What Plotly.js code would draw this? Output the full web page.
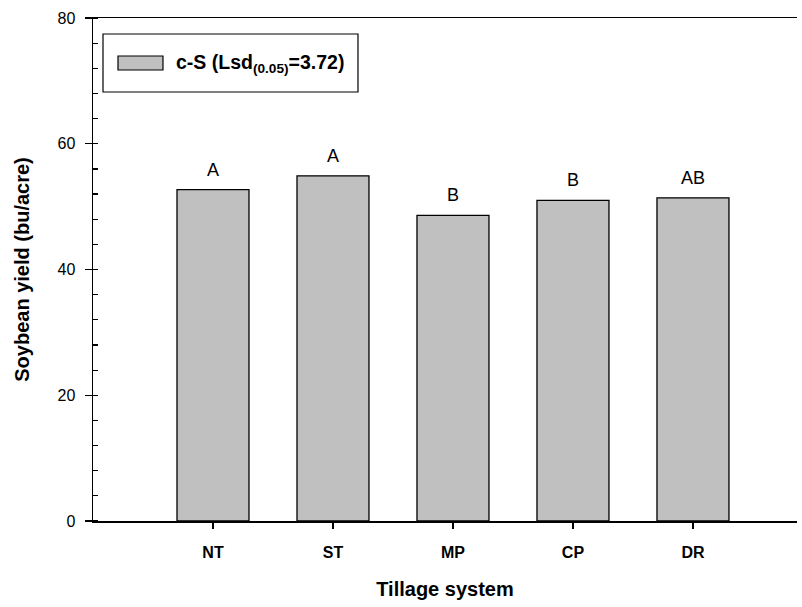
<!DOCTYPE html>
<html>
<head>
<meta charset="utf-8">
<script src="https://cdn.plot.ly/plotly-3.0.1.min.js"></script>
<style>
  html, body { margin: 0; padding: 0; background: #fff; }
  #chart { width: 802px; height: 607px; }
</style>
</head>
<body>
<div id="chart"></div>
<script>
const categories = ["NT", "ST", "MP", "CP", "DR"];
const yieldValues = [52.7, 54.9, 48.6, 51.0, 51.4];
const groupLetters = ["A", "A", "B", "B", "AB"];
const seriesName = "c-S (Lsd<sub>(0.05)</sub>=3.72)";
const yTicks = [0, 20, 40, 60, 80];

const font = "Arial, 'Liberation Sans', Helvetica, sans-serif";

const trace = {
  type: "bar",
  x: categories,
  y: yieldValues,
  width: 0.6,
  marker: { color: "#c0c0c0", line: { color: "#000", width: 1.3 } },
  showlegend: false,
  hoverinfo: "x+y"
};

const letterAnn = categories.map((c, i) => ({
  x: c, y: yieldValues[i], xref: "x", yref: "y",
  text: groupLetters[i], showarrow: false,
  yanchor: "middle", yshift: 20,
  font: { family: font, size: 18, color: "#000" }
}));

const layout = {
  width: 802, height: 607,
  margin: { l: 93, r: 5, t: 18, b: 86 },
  paper_bgcolor: "#fff", plot_bgcolor: "#fff",
  font: { family: font, color: "#000" },
  bargap: 0.4,
  xaxis: {
    type: "category",
    range: [-1, 4.867],
    showline: true, linecolor: "#000", linewidth: 1.5, mirror: true,
    ticks: "outside", ticklen: 6, tickwidth: 1.3, tickcolor: "#000",
    ticklabelstandoff: 10,
    tickfont: { family: font, size: 16, color: "#000", weight: "bold" },
    showgrid: false, zeroline: false,
    title: { text: "<b>Tillage system</b>", font: { family: font, size: 20, color: "#000" }, standoff: 22 }
  },
  yaxis: {
    range: [0, 80],
    tickvals: yTicks,
    ticktext: yTicks.map(String),
    showline: true, linecolor: "#000", linewidth: 1.5,
    ticks: "outside", ticklen: 7, tickwidth: 1.3, tickcolor: "#000",
    ticklabelstandoff: 6,
    tickfont: { family: font, size: 16, color: "#000" },
    minor: { ticks: "inside", dtick: 4, ticklen: 5, tickwidth: 1.2, tickcolor: "#000", showgrid: false },
    showgrid: false, zeroline: false,
    title: { text: "<b>Soybean yield (bu/acre)</b>", font: { family: font, size: 20, color: "#000" }, standoff: 22 }
  },
  shapes: [
    { type: "rect", xref: "paper", yref: "paper", x0: 0.0142, x1: 0.3764, y0: 0.8529, y1: 0.9682,
      line: { color: "#000", width: 1.2 }, fillcolor: "#fff" },
    { type: "rect", xref: "paper", yref: "paper", x0: 0.0355, x1: 0.0994, y0: 0.8966, y1: 0.9245,
      line: { color: "#000", width: 1.2 }, fillcolor: "#c0c0c0" }
  ],
  annotations: letterAnn.concat([{
    xref: "paper", yref: "paper", x: 0.1151, y: 0.9105,
    xanchor: "left", yanchor: "middle", showarrow: false,
    text: "<b>" + seriesName + "</b>",
    font: { family: font, size: 19.5, color: "#000" }
  }])
};

Plotly.newPlot("chart", [trace], layout, { displayModeBar: false, staticPlot: true });
</script>
</body>
</html>
